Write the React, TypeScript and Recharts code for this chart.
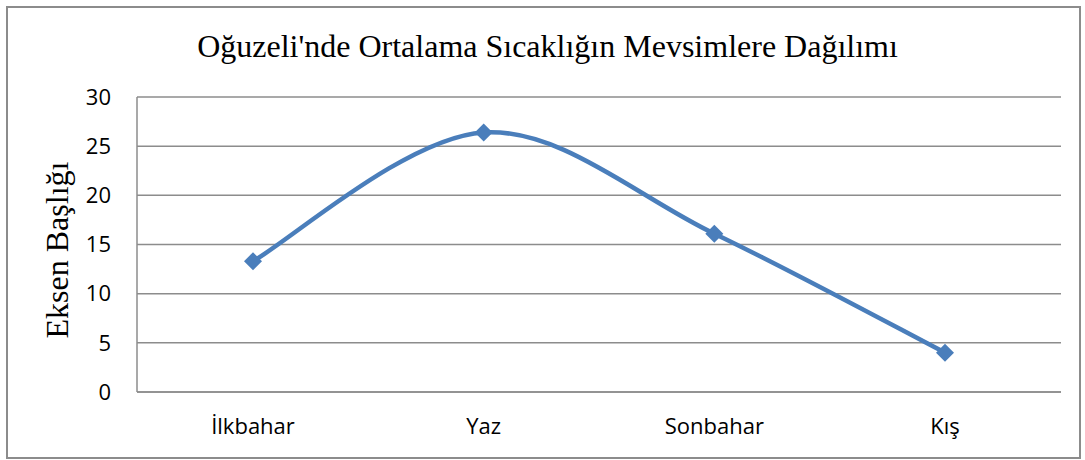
import { LineChart, Line, CartesianGrid, XAxis, YAxis } from 'recharts';

const seasons = ['İlkbahar', 'Yaz', 'Sonbahar', 'Kış'];
const temperatures = [13.3, 26.4, 16.1, 4.0];
const yTicks = [0, 5, 10, 15, 20, 25, 30];

const title = "Oğuzeli'nde Ortalama Sıcaklığın Mevsimlere Dağılımı";
const yTitle = 'Eksen Başlığı';

const blue = '#4a7ebb';
const gray = '#8c8c8c';

// Excel-like smoothed line (Catmull-Rom style bezier)
const excelCurve = (context: any) => {
    let pts: number[][] = [];
    return {
        areaStart() { },
        areaEnd() { },
        lineStart() { pts = []; },
        point(x: number, y: number) { pts.push([x, y]); },
        lineEnd() {
            const n = pts.length;
            if (!n) return;
            context.moveTo(pts[0][0], pts[0][1]);
            for (let i = 0; i < n - 1; i++) {
                const p0 = pts[Math.max(i - 1, 0)];
                const p1 = pts[i];
                const p2 = pts[i + 1];
                const p3 = pts[Math.min(i + 2, n - 1)];
                context.bezierCurveTo(
                    p1[0] + (p2[0] - p0[0]) / 6, p1[1] + (p2[1] - p0[1]) / 6,
                    p2[0] - (p3[0] - p1[0]) / 6, p2[1] - (p3[1] - p1[1]) / 6,
                    p2[0], p2[1]
                );
            }
        },
    };
};

const Diamond = (props: any) => {
    const { cx, cy } = props;
    if (cx == null || cy == null) return null;
    const r = 9;
    return <polygon points={`${cx},${cy - r} ${cx + r},${cy} ${cx},${cy + r} ${cx - r},${cy}`} fill={blue} />;
};

const App = () => {
    const data: any[] = [];
    for (let i = 0; i < seasons.length; i++) {
        data.push({ season: seasons[i], value: temperatures[i] });
    }

    const tickStyle = { fontFamily: '"Open Sans", sans-serif', fontSize: 22, fill: '#000' };

    return <div style={{ position: 'absolute', left: 0, top: 0, width: 1085, height: 460, background: '#fff' }}>
        <div style={{
            position: 'absolute', left: 6, top: 6, width: 1075, height: 453,
            border: '2px solid ' + gray, boxSizing: 'border-box'
        }} />
        <div style={{
            position: 'absolute', left: 5, top: 28, width: 1085, lineHeight: '36px',
            textAlign: 'center', fontFamily: '"Liberation Serif", "Times New Roman", serif', fontSize: 32, color: '#000'
        }}>{title}</div>
        <div style={{
            position: 'absolute', left: 57 - 150, top: 250 - 20, width: 300, height: 40, lineHeight: '40px',
            textAlign: 'center', transform: 'rotate(-90deg)',
            fontFamily: '"Liberation Serif", "Times New Roman", serif', fontSize: 32, color: '#000'
        }}>{yTitle}</div>
        <LineChart width={1085} height={460} data={data}
            margin={{ top: 97, right: 24, bottom: 38, left: 77 }}
            style={{ position: 'absolute', left: 0, top: 0 }}>
            <CartesianGrid vertical={false} stroke={gray} strokeWidth={1.5} />
            <XAxis dataKey="season" padding={{ left: 116, right: 116 }} height={30}
                axisLine={{ stroke: gray, strokeWidth: 1.5 }} tickLine={false} tickSize={0} tickMargin={26}
                tick={tickStyle} interval={0} />
            <YAxis type="number" domain={[0, 30]} ticks={yTicks} width={60}
                axisLine={{ stroke: gray, strokeWidth: 1.5 }} tickLine={false} tickSize={0} tickMargin={26}
                tick={tickStyle} />
            <Line type={excelCurve as any} dataKey="value" stroke={blue} strokeWidth={4.5}
                dot={<Diamond />} activeDot={false} isAnimationActive={false} />
        </LineChart>
    </div>;
};

export default App;
